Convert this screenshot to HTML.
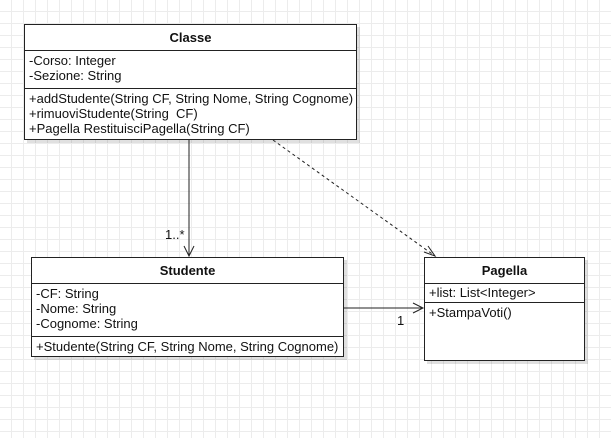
<!DOCTYPE html>
<html><head><style>
body{margin:0;width:611px;height:438px;overflow:hidden;background:#fff;
background-image:linear-gradient(#ececec 1px,transparent 1px),linear-gradient(90deg,#ececec 1px,transparent 1px);
background-size:12px 12px;background-position:-1px -1px;font-family:"Liberation Sans",sans-serif;font-size:13px;color:#111}
.b{position:absolute;background:#fff;border:1px solid #222;box-shadow:3px 3px 0 rgba(0,0,0,0.12);box-sizing:border-box}
.h{font-weight:bold;text-align:center;border-bottom:1px solid #222;box-sizing:border-box}
.s{padding:2px 4px;line-height:15px;box-sizing:border-box;white-space:nowrap}
.sl{border-bottom:1px solid #222}
.t{position:absolute;white-space:nowrap}
</style></head><body>
<div class="b" style="left:24px;top:24px;width:333px;height:116px">
 <div class="h" style="height:26px;line-height:26px">Classe</div>
 <div class="s sl" style="height:38px">-Corso: Integer<br>-Sezione: String</div>
 <div class="s">+addStudente(String CF, String Nome, String Cognome)<br>+rimuoviStudente(String &nbsp;CF)<br>+Pagella RestituisciPagella(String CF)</div>
</div>
<div class="b" style="left:31px;top:257px;width:313px;height:100px">
 <div class="h" style="height:26px;line-height:26px">Studente</div>
 <div class="s sl" style="height:53px">-CF: String<br>-Nome: String<br>-Cognome: String</div>
 <div class="s">+Studente(String CF, String Nome, String Cognome)</div>
</div>
<div class="b" style="left:424px;top:257px;width:161px;height:104px">
 <div class="h" style="height:26px;line-height:26px">Pagella</div>
 <div class="s sl" style="height:19px;padding-top:1px">+list: List&lt;Integer&gt;</div>
 <div class="s">+StampaVoti()</div>
</div>
<svg width="611" height="438" style="position:absolute;left:0;top:0" fill="none" stroke="#222">
 <path d="M189 140V256M184 246L189 256L194 246"/>
 <path d="M273 140L435 256" stroke-dasharray="3 3"/>
 <path d="M424 252L435 256L428 246"/>
 <path d="M344 308H423M413 303L423 308L413 313"/>
</svg>
<div class="t" style="left:165px;top:227px">1..*</div>
<div class="t" style="left:397px;top:313px">1</div>
</body></html>
